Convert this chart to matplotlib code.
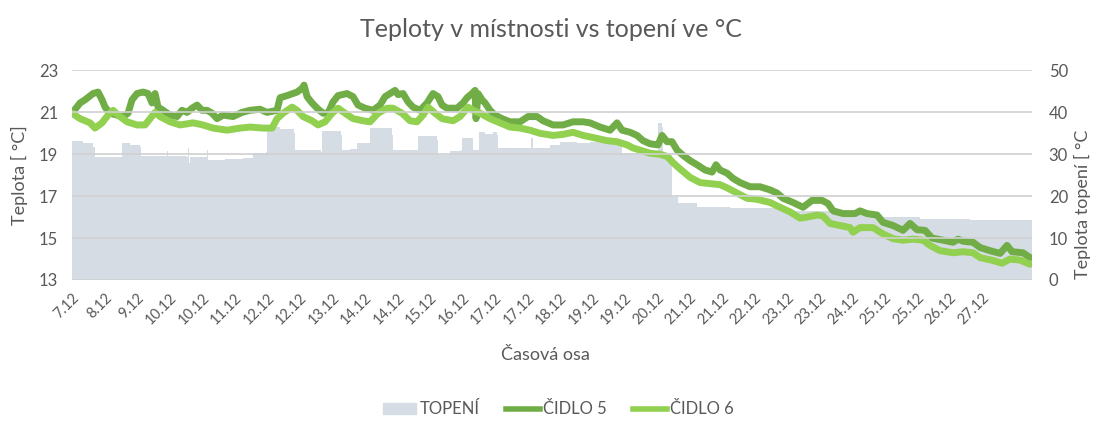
import numpy as np
import matplotlib
matplotlib.use("Agg")
import matplotlib.pyplot as plt
from matplotlib.patches import Patch
from matplotlib.lines import Line2D

plt.rcParams['font.family'] = ['Lato', 'DejaVu Sans']

# cislo mereni (poradi vzorku od 7.12.) a teploty cidel
n5 = [0, 8, 13, 21, 26, 30, 33, 38, 45, 51,
      56, 60, 65, 71, 76, 80, 83, 86, 91, 98,
      105, 110, 115, 120, 125, 130, 135, 140, 145, 151,
      161, 170, 178, 188, 195, 205, 208, 215, 225, 230,
      232, 235, 240, 245, 251, 256, 261, 266, 275, 281,
      286, 293, 301, 308, 313, 318, 323, 326, 331, 336,
      341, 348, 355, 361, 366, 370, 375, 385, 391, 395,
      400, 403, 404, 406, 410, 413, 418, 423, 430, 438,
      448, 456, 465, 471, 481, 491, 501, 511, 518, 528,
      538, 545, 550, 558, 565, 571, 578, 586, 590, 595,
      600, 605, 611, 618, 625, 633, 640, 644, 648, 655,
      661, 668, 678, 688, 698, 705, 711, 721, 731, 740,
      750, 756, 761, 771, 783, 788, 795, 805, 811, 821,
      831, 838, 845, 853, 860, 871, 881, 886, 891, 901,
      908, 918, 928, 935, 940, 951, 958]
cidlo5 = [20.96, 21.45, 21.6, 21.9, 21.97, 21.6, 21.25, 20.96, 20.87, 20.8,
          20.96, 21.6, 21.9, 21.97, 21.9, 21.45, 21.9, 21.25, 21.1, 20.87,
          20.8, 21.1, 21.0, 21.2, 21.35, 21.1, 21.1, 20.96, 20.7, 20.87,
          20.8, 21.0, 21.1, 21.15, 21.0, 21.1, 21.7, 21.8, 21.97, 22.15,
          22.3, 21.75, 21.45, 21.2, 20.96, 20.96, 21.5, 21.8, 21.9, 21.75,
          21.35, 21.2, 21.1, 21.35, 21.75, 21.9, 22.05, 21.85, 21.9, 21.5,
          21.25, 21.1, 21.45, 21.9, 21.75, 21.35, 21.2, 21.2, 21.45, 21.7,
          21.9, 22.05, 20.7, 21.9, 21.6, 21.45, 21.1, 20.87, 20.7, 20.55,
          20.55, 20.8, 20.8, 20.6, 20.4, 20.4, 20.55, 20.55, 20.5, 20.3,
          20.15, 20.5, 20.15, 20.05, 19.9, 19.65, 19.5, 19.45, 19.9, 19.6,
          19.6, 19.2, 18.95, 18.7, 18.5, 18.25, 18.15, 18.5, 18.25, 18.1,
          17.85, 17.65, 17.45, 17.45, 17.3, 17.15, 16.9, 16.7, 16.47, 16.8,
          16.8, 16.65, 16.3, 16.17, 16.17, 16.3, 16.17, 16.1, 15.75, 15.6,
          15.37, 15.7, 15.4, 15.37, 15.0, 14.9, 14.8, 14.95, 14.85, 14.8,
          14.55, 14.4, 14.27, 14.65, 14.35, 14.3, 14.07]

n6 = [0, 8, 18, 23, 30, 36, 41, 46, 55, 65,
      73, 78, 83, 88, 98, 108, 121, 131, 141, 155,
      168, 178, 191, 200, 205, 211, 220, 225, 231, 240,
      246, 253, 260, 266, 273, 281, 291, 298, 306, 315,
      321, 330, 338, 345, 351, 356, 363, 370, 381, 388,
      396, 401, 408, 418, 428, 438, 448, 458, 468, 481,
      491, 501, 511, 521, 535, 545, 555, 561, 568, 578,
      588, 595, 601, 608, 618, 628, 638, 648, 655, 665,
      675, 685, 698, 708, 718, 728, 735, 745, 751, 758,
      768, 778, 781, 788, 801, 811, 821, 831, 841, 851,
      858, 868, 881, 891, 901, 908, 921, 930, 938, 948,
      958]
cidlo6 = [20.96, 20.7, 20.5, 20.25, 20.5, 20.87, 21.1, 20.87, 20.55, 20.4,
          20.4, 20.7, 21.0, 20.8, 20.55, 20.4, 20.5, 20.4, 20.25, 20.15,
          20.25, 20.3, 20.25, 20.25, 20.7, 20.96, 21.25, 21.1, 20.8, 20.6,
          20.4, 20.55, 20.96, 21.2, 20.96, 20.7, 20.6, 20.55, 20.96, 21.2,
          21.2, 20.96, 20.6, 20.55, 20.87, 21.25, 20.96, 20.7, 20.6, 20.8,
          21.25, 21.1, 20.96, 20.7, 20.5, 20.3, 20.25, 20.15, 20.0, 19.9,
          19.95, 20.05, 19.9, 19.8, 19.65, 19.6, 19.45, 19.3, 19.2, 19.05,
          19.0, 18.9, 18.6, 18.3, 17.9, 17.65, 17.6, 17.55, 17.4, 17.15,
          16.9, 16.85, 16.7, 16.47, 16.25, 15.95, 16.0, 16.1, 16.05, 15.7,
          15.6, 15.5, 15.28, 15.5, 15.5, 15.2, 14.97, 14.9, 14.95, 14.9,
          14.65, 14.4, 14.3, 14.35, 14.3, 14.07, 13.93, 13.8, 14.0, 13.95,
          13.75]

# teplota topeni (prava osa)
n_top = [0, 11, 21, 23, 50, 58, 68, 69, 94, 95,
         96, 115, 116, 117, 118, 134, 135, 136, 153, 171,
         181, 188, 194, 195, 208, 222, 223, 249, 250, 269,
         270, 278, 285, 297, 298, 320, 321, 345, 346, 365,
         366, 378, 389, 390, 400, 401, 406, 407, 413, 421,
         425, 426, 458, 459, 461, 478, 488, 505, 518, 535,
         548, 550, 560, 568, 585, 586, 590, 591, 598, 600,
         606, 625, 658, 708, 758, 808, 848, 898, 960]
topeni = [33.2, 32.6, 31.7, 29.3, 32.6, 32.3, 31.7, 29.5, 29.5, 30.8,
          29.5, 29.4, 31.5, 28.0, 29.3, 29.3, 31.0, 28.6, 28.8, 29.2,
          30.2, 30.4, 30.6, 36.5, 36.0, 35.0, 31.0, 30.5, 35.5, 34.6,
          31.0, 31.3, 32.6, 32.8, 36.2, 34.6, 31.0, 31.0, 34.3, 33.4,
          29.8, 30.8, 31.0, 34.0, 34.0, 31.0, 31.0, 35.3, 34.8, 35.3,
          34.5, 31.4, 31.6, 33.9, 31.6, 32.2, 32.9, 32.7, 32.9, 32.7,
          31.9, 30.4, 30.2, 30.0, 29.3, 37.4, 36.5, 30.0, 29.8, 19.8,
          18.3, 17.4, 17.1, 16.4, 15.7, 15.0, 14.6, 14.2, 13.6]

popisky = ['7.12', '8.12', '9.12', '10.12', '10.12', '11.12', '12.12', '12.12', '13.12',
           '14.12', '14.12', '15.12', '16.12', '17.12', '17.12', '18.12', '19.12', '19.12',
           '20.12', '21.12', '21.12', '22.12', '23.12', '23.12', '24.12', '25.12', '25.12',
           '26.12', '27.12']
krok_popisku = 32.5

seda = '#595959'
fig = plt.figure(figsize=(10.95, 4.22), dpi=100)
ax = fig.add_axes([0.0658, 0.3365, 0.8767, 0.4965])
ax2 = ax.twinx()

ax2.fill_between(n_top, 0, topeni, step='post', color='#D6DCE4', lw=0)
ax2.set_ylim(0, 50)
ax2.set_yticks(range(0, 51, 10))

ax.plot(n5, cidlo5, color='#70AD47', lw=5, solid_joinstyle='round', solid_capstyle='round')
ax.plot(n6, cidlo6, color='#92D050', lw=5, solid_joinstyle='round', solid_capstyle='round')
ax.set_ylim(13, 23)
ax.set_yticks(range(13, 24, 2))
ax.set_xlim(0, 960)
ax.set_xticks(np.arange(len(popisky)) * krok_popisku)
ax.set_xticklabels(popisky, rotation=45, ha='right', rotation_mode='anchor')
ax.grid(axis='y', color='#D0D0D0', lw=1.2)
ax.set_axisbelow(False)
ax.set_zorder(ax2.get_zorder() + 1)
ax.patch.set_visible(False)

for a in (ax, ax2):
    for s in a.spines.values():
        s.set_visible(False)
    a.tick_params(length=0, colors=seda, labelsize=12)
ax.tick_params(axis='x', labelsize=10.5, pad=8)
ax.tick_params(axis='y', pad=10)
ax2.tick_params(axis='y', pad=12)

ax.set_ylabel('Teplota [ °C]', color=seda, fontsize=13, labelpad=8)
ax2.set_ylabel('Teplota topení [ °C', color=seda, fontsize=13)
ax2.yaxis.set_label_coords(1.044, 0.36)
fig.text(0.503, 0.93, 'Teploty v místnosti vs topení ve °C', ha='center', va='center',
         color=seda, fontsize=18)
fig.text(0.498, 0.158, 'Časová osa', ha='center', va='center', color=seda, fontsize=13)

handles = [Patch(color='#D6DCE4'),
           Line2D([], [], color='#70AD47', lw=4),
           Line2D([], [], color='#92D050', lw=4)]
fig.legend(handles, ['TOPENÍ', 'ČIDLO 5', 'ČIDLO 6'], loc='center', ncol=3,
           bbox_to_anchor=(0.51, 0.03), frameon=False, fontsize=12, labelcolor=seda,
           handlelength=2.0, handletextpad=0.2, columnspacing=1.6)

fig.savefig('out.png', dpi=100)
